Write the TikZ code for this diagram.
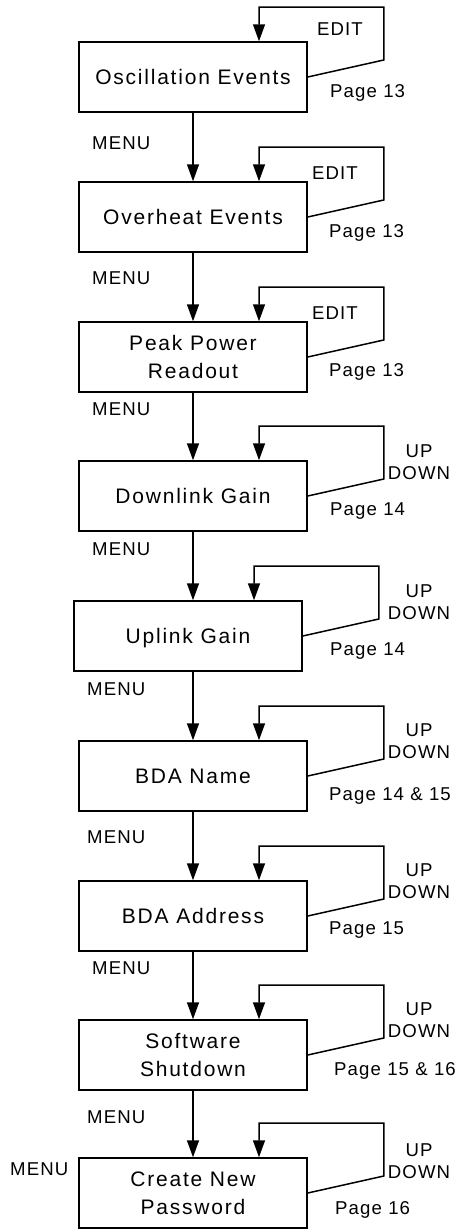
\documentclass[tikz,border=0pt]{standalone}
\usepackage{fontspec}
\setmainfont{Liberation Sans}
\newfontfamily\boxfont[LetterSpace=8.5]{Liberation Sans}
\newfontfamily\lblfont[LetterSpace=6]{Liberation Sans}
\usetikzlibrary{arrows.meta}
\tikzset{
  menubox/.style={draw, line width=1.5pt, minimum width=228pt, minimum height=70pt,
    inner sep=0pt, align=center, text depth=0pt, font=\boxfont\fontsize{21}{27.5}\selectfont},
  lbl/.style={inner sep=0pt, font=\lblfont\fontsize{18.6}{22}\selectfont},
  flow/.style={line width=1.5pt, -{Triangle[length=17pt,width=12pt]}},
}
\begin{document}
\begin{tikzpicture}[x=1pt,y=-1pt]
    \useasboundingbox (0,0) rectangle (464,1229);
    % menu screens
    \node[menubox] (osc)   at (193,77)   {Oscillation Events};
    \node[menubox] (ovh)   at (193,217)  {Overheat Events};
    \node[menubox] (peak)  at (193,357)  {Peak Power\\Readout};
    \node[menubox] (dlg)   at (193,496)  {Downlink Gain};
    \node[menubox] (ulg)   at (188,636)  {Uplink Gain};
    \node[menubox] (bname) at (193,776)  {BDA Name};
    \node[menubox] (baddr) at (193,916)  {BDA Address};
    \node[menubox] (sdown) at (193,1055) {Software\\Shutdown};
    \node[menubox] (pwd)   at (193,1193) {Create New\\Password};
    % MENU steps
    \foreach \a/\b in {osc/ovh,ovh/peak,peak/dlg,dlg/ulg,ulg/bname,bname/baddr,baddr/sdown,sdown/pwd}
        \draw[flow] (osc.south |- \a.south) -- (osc.south |- \b.north);
    % EDIT / UP DOWN loops
    \foreach \b in {osc,ovh,peak,dlg,ulg,bname,baddr,sdown,pwd}
        \draw[flow] (\b.east) -- ++(76,-17) -- ++(0,-53) -| ([xshift=66pt]\b.north);
    % labels
    \foreach \n/\x/\y in {m1/92/149,m2/92/284,m3/92/415,m4/92/555,m5/87/695,m6/87/843,m7/92/974,m8/87/1123,m9/10/1175}
        \node[lbl, anchor=base west] (\n) at (\x,\y) {MENU};
    \node[lbl, anchor=base] (e1) at (340,35)  {EDIT};
    \node[lbl, anchor=base] (e2) at (335,179) {EDIT};
    \node[lbl, anchor=base] (e3) at (335,319) {EDIT};
    \foreach \n/\y in {u4/462,u5/602,u6/741,u7/881,u8/1020,u9/1161}
        \node[lbl, align=center] (\n) at (419,\y) {UP\\DOWN};
    \node[lbl, anchor=base west] (p1) at (330,97)   {Page 13};
    \node[lbl, anchor=base west] (p2) at (329,237)  {Page 13};
    \node[lbl, anchor=base west] (p3) at (329,376)  {Page 13};
    \node[lbl, anchor=base west] (p4) at (330,515)  {Page 14};
    \node[lbl, anchor=base west] (p5) at (330,655)  {Page 14};
    \node[lbl, anchor=base west] (p6) at (329,800)  {Page 14 \& 15};
    \node[lbl, anchor=base west] (p7) at (329,934)  {Page 15};
    \node[lbl, anchor=base west] (p8) at (334,1075) {Page 15 \& 16};
    \node[lbl, anchor=base west] (p9) at (335,1214) {Page 16};
\end{tikzpicture}
\end{document}
